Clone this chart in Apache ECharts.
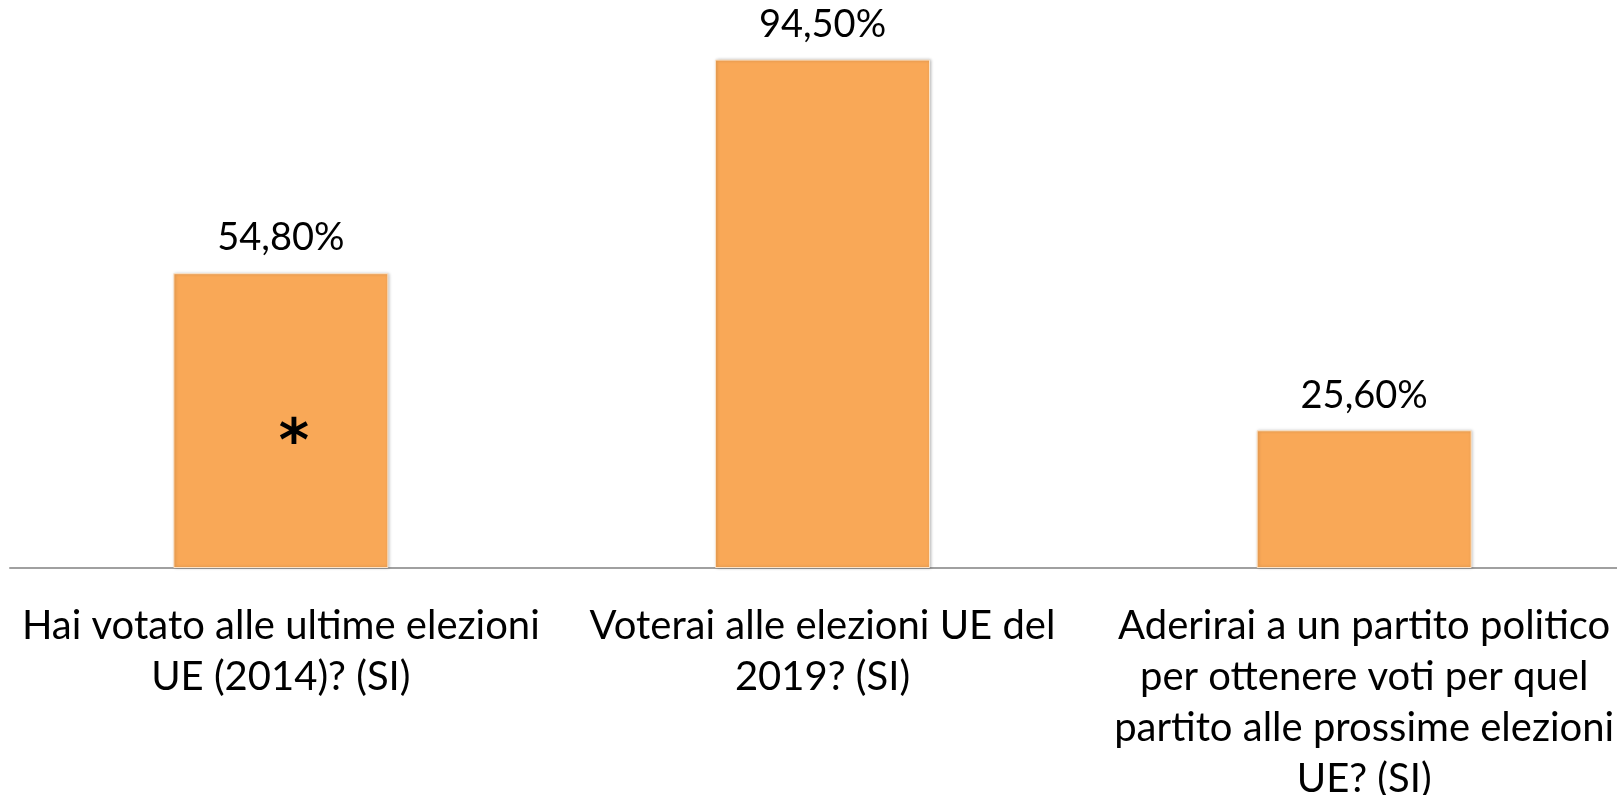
<!DOCTYPE html>
<html>
<head>
<meta charset="utf-8">
<script src="https://cdn.jsdelivr.net/npm/echarts@6/dist/echarts.min.js"></script>
<style>
html,body{margin:0;padding:0;background:#fff;}
#c{width:1617px;height:795px;}
</style>
</head>
<body>
<div id="c"></div>
<script>
const categories = [
  "Hai votato alle ultime elezioni\nUE (2014)? (SI)",
  "Voterai alle elezioni UE del\n2019? (SI)",
  "Aderirai a un partito politico\nper ottenere voti per quel\npartito alle prossime elezioni\nUE? (SI)"
];
const values = [54.8, 94.5, 25.6];
const noteMark = "*";

const FONT = "Lato";
const chart = echarts.init(document.getElementById('c'));
chart.setOption({
  animation: false,
  backgroundColor: '#ffffff',
  grid: { left: 10, width: 1625, top: 30, bottom: 227, containLabel: false, outerBoundsMode: 'none' },
  xAxis: {
    type: 'category',
    data: categories,
    axisLine: { show: true, lineStyle: { color: '#A0A0A0', width: 2 } },
    axisTick: { show: false },
    axisLabel: {
      interval: 0,
      margin: 33,
      fontFamily: FONT,
      fontSize: 40,
      lineHeight: 51,
      color: '#000',
      align: 'center'
    }
  },
  yAxis: {
    type: 'value', min: 0, max: 100, show: false,
    splitLine: { show: false }
  },
  series: [{
    type: 'bar',
    data: values,
    barWidth: 215,
    itemStyle: {
      color: '#F9A857',
      borderColor: '#FBE3C8',
      borderWidth: 1,
      shadowBlur: 3,
      shadowColor: 'rgba(0,0,0,0.25)',
      shadowOffsetX: 1,
      shadowOffsetY: 0
    },
    label: {
      show: true,
      position: 'top',
      distance: 16,
      fontFamily: FONT,
      fontSize: 38,
      color: '#000',
      formatter: p => p.value.toFixed(2).replace('.', ',') + '%'
    },
    markPoint: {
      symbol: 'circle',
      symbolSize: 0,
      data: [{ coord: [0, values[0] / 2] }],
      label: {
        show: true,
        formatter: noteMark,
        fontFamily: 'DejaVu Sans',
        fontWeight: 'bold',
        fontSize: 58,
        color: '#000',
        offset: [13, 24]
      }
    }
  }]
});
</script>
</body>
</html>
